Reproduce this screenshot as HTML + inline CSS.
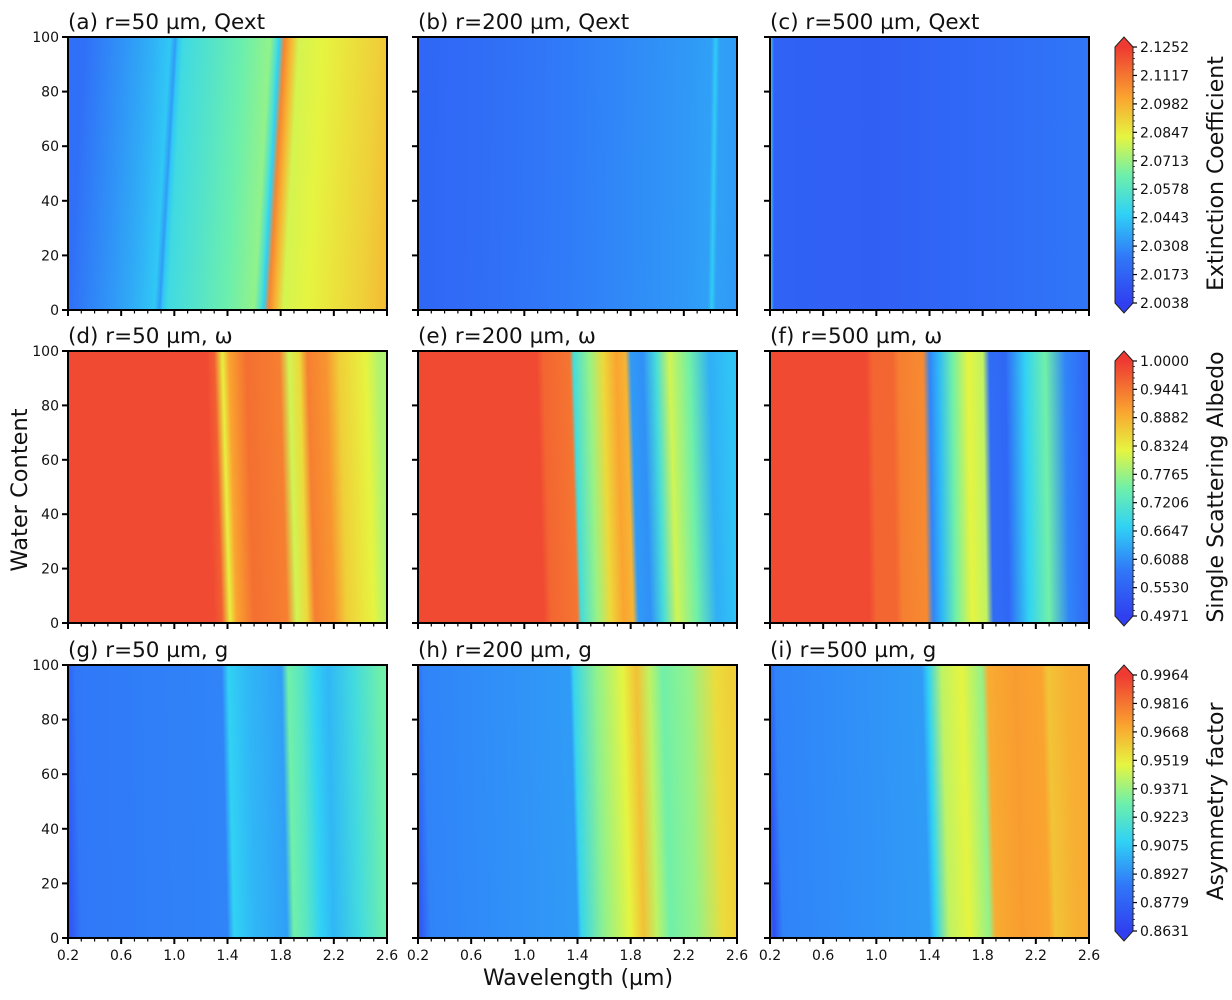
<!DOCTYPE html>
<html><head><meta charset="utf-8">
<style>
html,body{margin:0;padding:0;background:#fff;}
svg{display:block;font-family:"DejaVu Sans","Liberation Sans",sans-serif;}
</style></head>
<body>
<svg id="fig" width="1232" height="1000" viewBox="0 0 1232 1000" xmlns="http://www.w3.org/2000/svg">
<defs id="defs"></defs>
<g id="root"></g>
</svg>
<script>
// ---- data ----
const xTicks = [0.2, 0.6, 1.0, 1.4, 1.8, 2.2, 2.6];
const yTicks = [0, 20, 40, 60, 80, 100];
const titles = ["(a) r=50 µm, Qext","(b) r=200 µm, Qext","(c) r=500 µm, Qext",
  "(d) r=50 µm, ω","(e) r=200 µm, ω","(f) r=500 µm, ω",
  "(g) r=50 µm, g","(h) r=200 µm, g","(i) r=500 µm, g"];
const cbLabels = ["Extinction Coefficient","Single Scattering Albedo","Asymmetry factor"];
const cbTicksQext = ["2.1252","2.1117","2.0982","2.0847","2.0713","2.0578","2.0443","2.0308","2.0173","2.0038"];
const cbTicksAlb = ["1.0000","0.9441","0.8882","0.8324","0.7765","0.7206","0.6647","0.6088","0.5530","0.4971"];
const cbTicksG = ["0.9964","0.9816","0.9668","0.9519","0.9371","0.9223","0.9075","0.8927","0.8779","0.8631"];
const ranges = [[2.0038,2.1252],[0.4971,1.0],[0.8631,0.9964]];
// wavelength profiles (at water content 0) per panel
const wlA = [0.2,0.5,0.7,0.85,0.89,0.91,0.95,1.2,1.4,1.6,1.65,1.67,1.71,1.76,1.82,2.0,2.2,2.4,2.55,2.58,2.6];
const valA = [2.022,2.032,2.038,2.044,2.034,2.044,2.051,2.058,2.064,2.070,2.055,2.046,2.108,2.097,2.080,2.083,2.087,2.091,2.095,2.095,2.108];
const wlB = [0.2,0.6,1.0,1.4,1.8,2.2,2.38,2.41,2.44,2.6];
const valB = [2.019,2.021,2.024,2.027,2.030,2.033,2.035,2.045,2.035,2.033];
const wlC = [0.2,0.21,0.23,1.0,1.8,2.6];
const valC = [2.050,2.040,2.017,2.016,2.020,2.025];
const wlD = [0.2,1.3,1.36,1.42,1.47,1.6,1.85,1.92,2.0,2.06,2.2,2.3,2.5,2.6];
const valD = [0.985,0.985,0.965,0.830,0.900,0.950,0.935,0.810,0.850,0.935,0.915,0.860,0.825,0.790];
const wlE = [0.2,1.15,1.2,1.4,1.43,1.55,1.65,1.75,1.82,1.86,1.95,2.05,2.15,2.3,2.45,2.6];
const valE = [0.985,0.985,0.960,0.945,0.700,0.775,0.850,0.900,0.885,0.620,0.610,0.700,0.810,0.750,0.640,0.660];
const wlF = [0.2,0.95,1.0,1.15,1.2,1.38,1.43,1.5,1.6,1.72,1.83,1.88,2.0,2.15,2.3,2.45,2.6];
const valF = [0.985,0.985,0.960,0.960,0.935,0.925,0.600,0.650,0.750,0.825,0.800,0.570,0.560,0.675,0.750,0.600,0.560];
const wlG = [0.2,0.3,1.4,1.45,1.6,1.85,1.9,2.0,2.1,2.2,2.4,2.6];
const valG = [0.869,0.887,0.890,0.910,0.903,0.897,0.930,0.923,0.910,0.903,0.916,0.930];
const wlH = [0.2,0.3,1.4,1.43,1.6,1.8,1.9,2.0,2.1,2.3,2.5,2.6];
const valH = [0.869,0.890,0.896,0.912,0.935,0.950,0.963,0.943,0.930,0.936,0.956,0.959];
const wlI = [0.2,0.21,0.23,0.3,1.4,1.45,1.55,1.7,1.85,1.9,2.1,2.3,2.35,2.5,2.6];
const valI = [0.900,0.880,0.869,0.890,0.896,0.910,0.943,0.950,0.936,0.968,0.972,0.970,0.962,0.967,0.968];
const panelWl = [wlA,wlB,wlC,wlD,wlE,wlF,wlG,wlH,wlI];
const panelVal = [valA,valB,valC,valD,valE,valF,valG,valH,valI];
const panelShift = [16,4,0,-8,-8,-4,-6,-8,-8]; // px shift of features at top

// ---- layout ----
const colX = [[68,387],[418,737],[770,1089]];
const rowY = [[37,310],[351,623],[665,938]];
const NS = "http://www.w3.org/2000/svg";
const root = document.getElementById('root');
const defs = document.getElementById('defs');
function mk(tag, attrs, parent){const e=document.createElementNS(NS,tag);for(const k in attrs)e.setAttribute(k,attrs[k]);(parent||root).appendChild(e);return e;}

const jetStops = [[0,[48,64,240]],[0.18,[48,120,248]],[0.35,[48,210,245]],[0.5,[110,240,170]],[0.65,[230,245,64]],[0.8,[250,165,48]],[1,[238,58,50]]];
function cmap(t){t=Math.max(0,Math.min(1,t));for(let i=1;i<jetStops.length;i++){const a=jetStops[i-1],b=jetStops[i];if(t<=b[0]){const f=(t-a[0])/(b[0]-a[0]);return 'rgb('+a[1].map((v,j)=>Math.round(v+(b[1][j]-v)*f)).join(',')+')';}}return 'rgb(238,58,50)';}

function xScale(c,w){return colX[c][0]+(w-0.2)/2.4*(colX[c][1]-colX[c][0]);}
function yScale(r,v){return rowY[r][1]-v/100*(rowY[r][1]-rowY[r][0]);}

for(let p=0;p<9;p++){
  const r=Math.floor(p/3), c=p%3;
  const [x0,x1]=colX[c], [y0,y1]=rowY[r];
  const rg=ranges[r];
  const grad=mk('linearGradient',{id:'g'+p,gradientUnits:'userSpaceOnUse',x1:x0,x2:x1,y1:0,y2:0,
    gradientTransform:`translate(0,${y1}) skewX(${Math.atan(-panelShift[p]/(y1-y0))*180/Math.PI}) translate(0,${-y1})`},defs);
  panelWl[p].forEach((w,i)=>{mk('stop',{offset:((w-0.2)/2.4).toFixed(4),'stop-color':cmap((panelVal[p][i]-rg[0])/(rg[1]-rg[0]))},grad);});
  const g=mk('g',{});
  
  
  const hm=mk('rect',{x:x0,y:y0,width:x1-x0,height:y1-y0,fill:`url(#g${p})`},g);
  
  
  const fr=mk('rect',{x:x0,y:y0,width:x1-x0,height:y1-y0,fill:'none',stroke:'#000','stroke-width':2},g);
  
  
  const t=mk('text',{x:x0,y:y0-8,'font-size':21.5,fill:'#111'},g);
  t.textContent=titles[p];
  
  
  yTicks.forEach(v=>{const y=yScale(r,v);mk('line',{x1:x0-6,x2:x0,y1:y,y2:y,stroke:'#000','stroke-width':2},g);
    if(c===0){const tl=mk('text',{x:x0-9,y:y+5,'font-size':14,'text-anchor':'end',fill:'#111'},g);tl.textContent=v;
      
      }});
  for(let k=0;k<=24;k++){const w=0.2+k*0.1;const x=xScale(c,w);const maj=k%4===0;
    mk('line',{x1:x,x2:x,y1:y1,y2:y1+(maj?6:3.5),stroke:'#000','stroke-width':maj?2:1.2},g);}
  if(r===2){xTicks.forEach(w=>{const tl=mk('text',{x:xScale(c,w),y:y1+22,'font-size':14,'text-anchor':'middle',fill:'#111'},g);tl.textContent=w.toFixed(1);
    
    });}
}
const cbTickSets=[cbTicksQext,cbTicksAlb,cbTicksG];
for(let r=0;r<3;r++){
  const [y0,y1]=rowY[r]; const bx=1115,bw=18; const by0=y0+10, by1=y1-7;
  const grad=mk('linearGradient',{id:'cb'+r,x1:0,x2:0,y1:1,y2:0},defs);
  jetStops.forEach(s=>mk('stop',{offset:s[0],'stop-color':cmap(s[0])},grad));
  const g=mk('g',{});
  
  
  mk('rect',{x:bx,y:by0,width:bw,height:by1-by0,fill:`url(#cb${r})`},g);
  mk('path',{d:`M${bx},${by0} L${bx+bw/2},${y0} L${bx+bw},${by0} Z`,fill:cmap(1)},g);
  mk('path',{d:`M${bx},${by1} L${bx+bw/2},${y1+3} L${bx+bw},${by1} Z`,fill:cmap(0)},g);
  mk('path',{d:`M${bx},${by0} L${bx+bw/2},${y0} L${bx+bw},${by0} L${bx+bw},${by1} L${bx+bw/2},${y1+3} L${bx},${by1} Z`,fill:'none',stroke:'#222','stroke-width':1},g);
  const tk=cbTickSets[r];
  tk.forEach((s,i)=>{const y=by0+i*(by1-by0)/(tk.length-1);
    mk('line',{x1:bx+bw,x2:bx+bw+4,y1:y,y2:y,stroke:'#000','stroke-width':1.2},g);
    const tl=mk('text',{x:bx+bw+7,y:y+5,'font-size':14,fill:'#111'},g);tl.textContent=s;
    
    });
  for(let i=0;i<(tk.length-1)*5;i++){const y=by0+i*(by1-by0)/((tk.length-1)*5);mk('line',{x1:bx+bw,x2:bx+bw+2,y1:y,y2:y,stroke:'#000','stroke-width':0.7},g);}
  const cy=(y0+y1)/2;
  const lb=mk('text',{x:1223,y:cy,'font-size':22,'text-anchor':'middle',fill:'#111',transform:`rotate(-90 1223 ${cy})`},g);
  lb.textContent=cbLabels[r];
  
  
}
const yl=mk('text',{x:27,y:490,'font-size':22.5,'text-anchor':'middle',fill:'#111',transform:'rotate(-90 27 490)'});
yl.textContent='Water Content';


const xl=mk('text',{x:578,y:985,'font-size':22,'text-anchor':'middle',fill:'#111'});
xl.textContent='Wavelength (µm)';


</script>
</body></html>
